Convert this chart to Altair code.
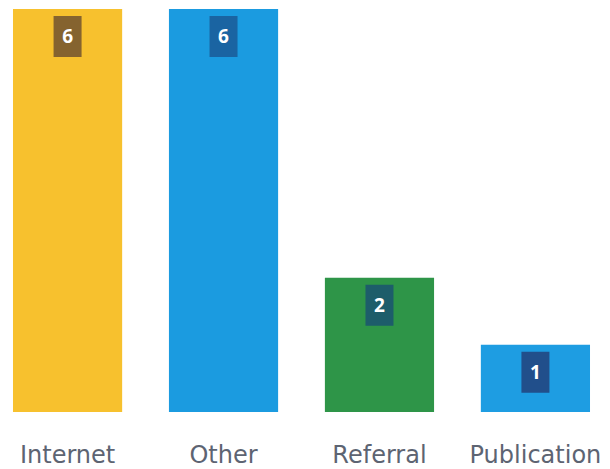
import altair as alt
import pandas as pd

categories = ["Internet", "Other", "Referral", "Publication"]
values = [6, 6, 2, 1]
bar_colors = ["#f7c12e", "#1b9be0", "#2e9548", "#1e9de2"]
box_colors = ["#85632f", "#1a64a2", "#1d5d6a", "#214f8b"]

df = pd.DataFrame({"cat": categories, "value": values,
                   "bar": bar_colors, "box": box_colors})

x = alt.X("cat:N", sort=categories, title=None,
          scale=alt.Scale(paddingInner=0.3, paddingOuter=0.032),
          axis=alt.Axis(labelAngle=0, domain=False, ticks=False, tickSize=0,
                        grid=False, labelPadding=50, labelBaseline="alphabetic",
                        labelFont="DejaVu Sans", labelFontSize=24,
                        labelColor="#5d6472"))
y = alt.Y("value:Q", axis=None, scale=alt.Scale(domain=[0, 6.015]))

bars = alt.Chart(df).mark_bar().encode(
    x=x, y=y, color=alt.Color("bar:N", scale=None))

boxes = alt.Chart(df).mark_bar(size=28, yOffset=7, y2Offset=48).encode(
    x=x, y=y, y2=alt.Y2("value"), color=alt.Color("box:N", scale=None))

labels = alt.Chart(df).mark_text(dy=28, baseline="middle", align="center",
                                 font="Open Sans", fontWeight="bold",
                                 fontSize=19, color="white").encode(
    x=x, y=y, text="value:Q")

chart = (bars + boxes + labels).properties(
    width=587, height=404, padding=0, background="white"
).configure_view(stroke=None, strokeWidth=0)

chart.save("out.html", embed_options={"renderer": "svg", "actions": False})
